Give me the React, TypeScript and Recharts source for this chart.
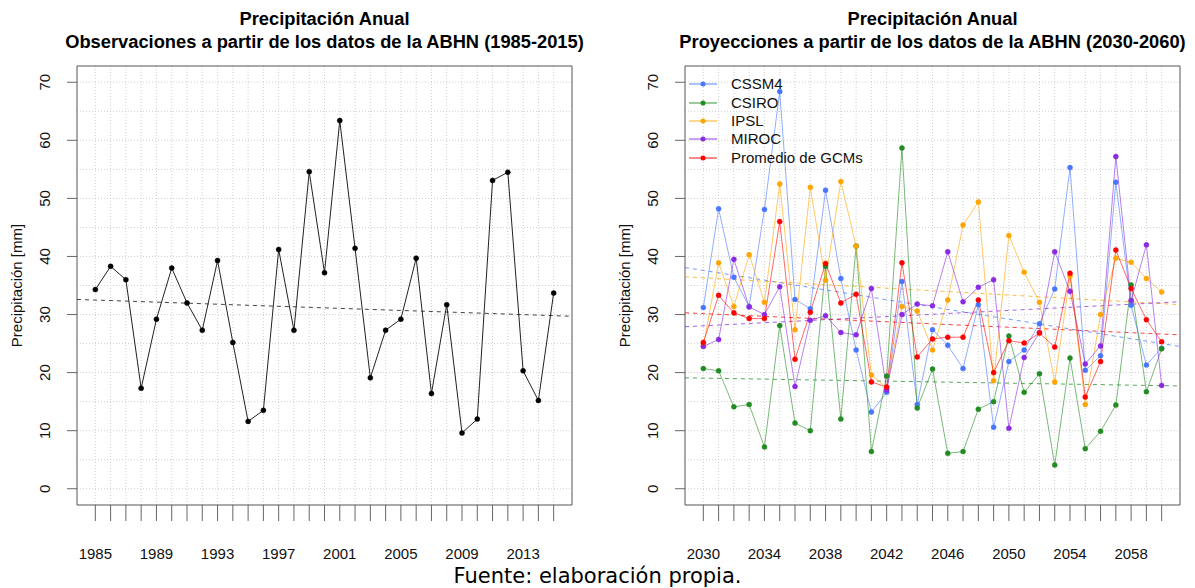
import {
  LineChart,
  Line,
  XAxis,
  YAxis,
  CartesianGrid,
  ReferenceLine,
  ReferenceArea,
  Legend,
} from 'recharts';

// Observaciones 1985-2015
const obsYears = [
  1985, 1986, 1987, 1988, 1989, 1990, 1991, 1992, 1993, 1994, 1995, 1996, 1997, 1998, 1999, 2000,
  2001, 2002, 2003, 2004, 2005, 2006, 2007, 2008, 2009, 2010, 2011, 2012, 2013, 2014, 2015,
];
const obsValues = [
  34.3, 38.3, 36.0, 17.3, 29.2, 38.0, 32.0, 27.3, 39.3, 25.2, 11.6, 13.5, 41.2, 27.3, 54.6, 37.2,
  63.4, 41.4, 19.1, 27.3, 29.2, 39.7, 16.4, 31.7, 9.6, 12.0, 53.1, 54.5, 20.3, 15.2, 33.7,
];
const obsLabelYears = [1985, 1989, 1993, 1997, 2001, 2005, 2009, 2013];
// tendencia lineal (valor en el borde izquierdo y derecho del panel)
const obsTrend = [32.6, 29.7];

// Proyecciones 2030-2060
const projYears = [
  2030, 2031, 2032, 2033, 2034, 2035, 2036, 2037, 2038, 2039, 2040, 2041, 2042, 2043, 2044, 2045,
  2046, 2047, 2048, 2049, 2050, 2051, 2052, 2053, 2054, 2055, 2056, 2057, 2058, 2059, 2060,
];
const cssm4 = [
  31.2, 48.2, 36.4, 31.4, 48.1, 68.4, 32.6, 31.0, 51.4, 36.2, 23.9, 13.2, 16.6, 35.7, 14.5, 27.4,
  24.7, 20.7, 31.7, 10.6, 21.9, 23.9, 28.4, 34.4, 55.3, 20.4, 22.9, 52.8, 31.6, 21.3, 24.2,
];
const csiro = [
  20.7, 20.3, 14.1, 14.5, 7.2, 28.1, 11.3, 10.0, 38.3, 12.0, 41.8, 6.4, 19.4, 58.7, 13.9, 20.6,
  6.1, 6.4, 13.7, 15.0, 26.3, 16.6, 19.8, 4.1, 22.5, 6.9, 9.9, 14.4, 35.1, 16.7, 24.1,
];
const ipsl = [
  24.6, 38.9, 31.4, 40.3, 32.1, 52.5, 27.4, 51.9, 35.9, 52.9, 41.8, 19.6, 17.4, 31.4, 30.6, 23.9,
  32.5, 45.4, 49.4, 18.6, 43.6, 37.3, 32.1, 18.4, 36.6, 14.5, 30.0, 39.7, 39.0, 36.2, 33.9,
];
const miroc = [
  24.5, 25.7, 39.5, 31.3, 30.0, 34.8, 17.6, 29.0, 29.8, 26.9, 26.5, 34.5, 17.0, 30.0, 31.8, 31.5,
  40.8, 32.2, 34.7, 36.0, 10.4, 22.6, 26.9, 40.8, 34.0, 21.5, 24.6, 57.2, 32.4, 42.0, 17.8,
];
const promedio = [
  25.2, 33.3, 30.3, 29.3, 29.3, 46.0, 22.3, 30.4, 38.8, 32.0, 33.5, 18.4, 17.5, 38.9, 22.7, 25.8,
  26.1, 26.1, 32.5, 20.0, 25.5, 25.1, 26.8, 24.4, 37.1, 15.8, 21.9, 41.1, 34.5, 29.1, 25.3,
];
const projLabelYears = [2030, 2034, 2038, 2042, 2046, 2050, 2054, 2058];
const cssm4Trend = [38.1, 24.5];
const csiroTrend = [19.1, 17.7];
const ipslTrend = [36.5, 31.7];
const mirocTrend = [27.9, 32.2];
const promedioTrend = [30.3, 26.5];

const yTicks = [0, 10, 20, 30, 40, 50, 60, 70];
const yGrid = [0, 5, 10, 15, 20, 25, 30, 35, 40, 45, 50, 55, 60, 65, 70];
const yDomain: [number, number] = [-2.8, 72.8];
const obsDomain: [number, number] = [1983.8, 2016.2];
const projDomain: [number, number] = [2028.8, 2061.2];

const FONT = '"Liberation Sans", Arial, sans-serif';

const series = [
  { key: 'cssm4', name: 'CSSM4', color: '#4876FF', values: cssm4, trend: cssm4Trend },
  { key: 'csiro', name: 'CSIRO', color: '#228B22', values: csiro, trend: csiroTrend },
  { key: 'ipsl', name: 'IPSL', color: '#FFA500', values: ipsl, trend: ipslTrend },
  { key: 'miroc', name: 'MIROC', color: '#8A2BE2', values: miroc, trend: mirocTrend },
  { key: 'promedio', name: 'Promedio de GCMs', color: '#FF0000', values: promedio, trend: promedioTrend },
];

const obsData = obsYears.map((year, i) => ({ year, value: obsValues[i] }));
const projData = projYears.map((year, i) => {
  const row: Record<string, number> = { year };
  series.forEach((s) => (row[s.key] = s.values[i]));
  return row;
});

function XTick(props: any) {
  const { x, y, payload, labelled } = props;
  if (!labelled.includes(payload.value)) return <g />;
  return (
    <text
      x={x}
      y={y + 32}
      textAnchor="middle"
      dominantBaseline="central"
      fontFamily={FONT}
      fontSize={15}
      fill="#111"
    >
      {payload.value}
    </text>
  );
}

function YTick(props: any) {
  const { x, y, payload } = props;
  const cx = x - 22;
  return (
    <text
      x={cx}
      y={y}
      transform={`rotate(-90 ${cx} ${y})`}
      textAnchor="middle"
      dominantBaseline="central"
      fontFamily={FONT}
      fontSize={15}
      fill="#111"
    >
      {payload.value}
    </text>
  );
}

function YTitle(props: any) {
  const { viewBox } = props;
  const cx = viewBox.x + viewBox.width - 61;
  const cy = viewBox.y + viewBox.height / 2;
  return (
    <text
      x={cx}
      y={cy}
      transform={`rotate(-90 ${cx} ${cy})`}
      textAnchor="middle"
      dominantBaseline="central"
      fontFamily={FONT}
      fontSize={15}
      fill="#111"
    >
      Precipitación [mm]
    </text>
  );
}

function LegendBox() {
  return (
    <div style={{ fontFamily: FONT, fontSize: 15, color: '#111' }}>
      {series.map((s) => (
        <div key={s.key} style={{ display: 'flex', alignItems: 'center', height: 18.4 }}>
          <svg width={42} height={18} style={{ display: 'block' }}>
            <line x1={0} y1={9} x2={28} y2={9} stroke={s.color} strokeWidth={2} strokeOpacity={0.45} />
            <circle cx={14} cy={9} r={2.5} fill={s.color} />
          </svg>
          <span style={{ lineHeight: '18px' }}>{s.name}</span>
        </div>
      ))}
    </div>
  );
}

function Title({ left, lines }: { left: number; lines: string[] }) {
  return (
    <div
      style={{
        position: 'absolute',
        left: left - 320,
        top: 7,
        width: 640,
        textAlign: 'center',
        fontFamily: FONT,
        fontWeight: 'bold',
        fontSize: 18.3,
        lineHeight: '23px',
        color: '#000',
      }}
    >
      {lines.map((l) => (
        <div key={l}>{l}</div>
      ))}
    </div>
  );
}

export default function App() {
  return (
    <div style={{ position: 'relative', width: 1195, height: 588, background: '#fff', overflow: 'hidden' }}>
      <style>{'body{margin:0}'}</style>

      <Title left={324.5} lines={['Precipitación Anual', 'Observaciones a partir de los datos de la ABHN (1985-2015)']} />
      <Title left={932.5} lines={['Precipitación Anual', 'Proyecciones a partir de los datos de la ABHN (2030-2060)']} />

      {/* Observaciones */}
      <div style={{ position: 'absolute', left: 0, top: 0 }}>
        <LineChart width={597} height={588} data={obsData} margin={{ top: 66, right: 25, bottom: 23, left: 0 }}>
          <CartesianGrid stroke="#cfcfcf" strokeDasharray="1 2" horizontalValues={yGrid} verticalValues={obsYears} />
          <XAxis
            type="number"
            dataKey="year"
            domain={obsDomain}
            allowDataOverflow
            ticks={obsYears}
            interval={0}
            height={60}
            tickSize={16}
            tickMargin={0}
            axisLine={false}
            tickLine={{ stroke: '#666' }}
            tick={(p: any) => <XTick {...p} labelled={obsLabelYears} />}
          />
          <YAxis
            type="number"
            domain={yDomain}
            allowDataOverflow
            ticks={yTicks}
            interval={0}
            width={77}
            tickSize={10}
            tickMargin={0}
            axisLine={false}
            tickLine={{ stroke: '#666' }}
            tick={YTick}
            label={<YTitle />}
          />
          <ReferenceArea x1={obsDomain[0]} x2={obsDomain[1]} y1={yDomain[0]} y2={yDomain[1]} fill="none" stroke="#555" ifOverflow="visible" />
          <ReferenceLine
            segment={[{ x: obsDomain[0], y: obsTrend[0] }, { x: obsDomain[1], y: obsTrend[1] }]}
            stroke="#444"
            strokeDasharray="4 4"
            ifOverflow="visible"
          />
          <Line
            type="linear"
            dataKey="value"
            stroke="#222"
            strokeWidth={1}
            dot={{ r: 2.5, fill: '#000', stroke: '#000', strokeWidth: 0.5 }}
            isAnimationActive={false}
          />
        </LineChart>
      </div>

      {/* Proyecciones */}
      <div style={{ position: 'absolute', left: 598, top: 0 }}>
        <LineChart width={597} height={588} data={projData} margin={{ top: 66, right: 15, bottom: 23, left: 0 }}>
          <CartesianGrid stroke="#cfcfcf" strokeDasharray="1 2" horizontalValues={yGrid} verticalValues={projYears} />
          <XAxis
            type="number"
            dataKey="year"
            domain={projDomain}
            allowDataOverflow
            ticks={projYears}
            interval={0}
            height={60}
            tickSize={16}
            tickMargin={0}
            axisLine={false}
            tickLine={{ stroke: '#666' }}
            tick={(p: any) => <XTick {...p} labelled={projLabelYears} />}
          />
          <YAxis
            type="number"
            domain={yDomain}
            allowDataOverflow
            ticks={yTicks}
            interval={0}
            width={87}
            tickSize={10}
            tickMargin={0}
            axisLine={false}
            tickLine={{ stroke: '#666' }}
            tick={YTick}
            label={<YTitle />}
          />
          <ReferenceArea x1={projDomain[0]} x2={projDomain[1]} y1={yDomain[0]} y2={yDomain[1]} fill="none" stroke="#555" ifOverflow="visible" />
          {series.map((s) => (
            <ReferenceLine
              key={`trend-${s.key}`}
              segment={[{ x: projDomain[0], y: s.trend[0] }, { x: projDomain[1], y: s.trend[1] }]}
              stroke={s.color}
              strokeOpacity={0.75}
              strokeDasharray="4 4"
              ifOverflow="visible"
            />
          ))}
          {series.map((s) => (
            <Line
              key={s.key}
              type="linear"
              dataKey={s.key}
              name={s.name}
              stroke={s.color}
              strokeOpacity={0.6}
              strokeWidth={1}
              dot={{ r: 2.5, fill: s.color, stroke: s.color, strokeWidth: 0.5, strokeOpacity: 1, fillOpacity: 1 }}
              isAnimationActive={false}
            />
          ))}
          <Legend
            layout="vertical"
            align="center"
            verticalAlign="middle"
            content={() => <LegendBox />}
            wrapperStyle={{ left: 91, top: 75, width: 220, height: 'auto' }}
          />
        </LineChart>
      </div>

      <div
        style={{
          position: 'absolute',
          left: 0,
          top: 564,
          width: 1195,
          textAlign: 'center',
          fontFamily: '"DejaVu Sans", Verdana, sans-serif',
          fontSize: 21,
          lineHeight: '24px',
          color: '#000',
        }}
      >
        Fuente: elaboración propia.
      </div>
    </div>
  );
}
